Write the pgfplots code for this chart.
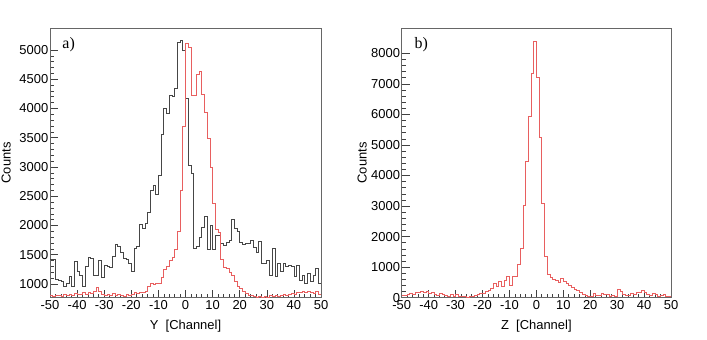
\documentclass[border=0pt]{standalone}
\usepackage{fontspec}
\setmainfont{Liberation Sans}
\newfontfamily\seriffont{Liberation Serif}
\usepackage{pgfplots}
\pgfplotsset{compat=1.18}
\usepackage{pgfplotstable}
\definecolor{histred}{RGB}{232,95,95}
\definecolor{histgray}{RGB}{70,70,70}

\pgfplotstableread{
x b r
-50 1420 800
-49 1420 790
-48 1080 810
-47 1060 800
-46 1050 790
-45 965 820
-44 1020 810
-43 1137 830
-42 965 810
-41 1380 840
-40 1210 830
-39 1140 820
-38 965 850
-37 1310 830
-36 1456 860
-35 1440 840
-34 1140 870
-33 1140 950
-32 1410 880
-31 1120 830
-30 1320 810
-29 1300 830
-28 1290 800
-27 1480 840
-26 1684 810
-25 1640 830
-24 1550 800
-23 1440 790
-22 1420 820
-21 1355 800
-20 1210 830
-19 1610 850
-18 1640 840
-17 2025 860
-16 1950 850
-15 2040 870
-14 2220 960
-13 2600 1020
-12 2680 990
-11 2540 1020
-10 2850 1010
-9 3550 1120
-8 4000 1250
-7 3920 1300
-6 4230 1400
-5 4200 1450
-4 4340 1600
-3 5130 1900
-2 5160 2600
-1 5000 3690
0 4170 5120
1 3030 5050
2 2890 4230
3 1610 4220
4 1640 4580
5 1800 4640
6 1970 4250
7 2150 3930
8 1600 3490
9 2010 3000
10 1600 2380
11 1830 1930
12 1830 1880
13 1700 1420
14 1660 1280
15 1720 1260
16 1750 1200
17 2100 1150
18 1950 1040
19 1900 955
20 1720 930
21 1670 880
22 1690 840
23 1690 810
24 1750 800
25 1630 790
26 1550 780
27 1735 790
28 1353 770
29 1353 790
30 1410 780
31 1154 800
32 1610 790
33 1126 810
34 1353 790
35 1210 800
36 1353 820
37 1296 810
38 1325 830
39 1296 840
40 1126 820
41 1325 860
42 1068 850
43 1154 870
44 1012 850
45 1183 880
46 1040 860
47 1154 840
48 1268 870
49 1010 830
50 1010 830
}\dataA

\pgfplotstableread{
x r
-50 80
-49 90
-48 100
-47 130
-46 120
-45 160
-44 170
-43 200
-42 180
-41 210
-40 130
-39 170
-38 110
-37 90
-36 150
-35 120
-34 80
-33 60
-32 100
-31 40
-30 110
-29 60
-28 30
-27 40
-26 20
-25 50
-24 60
-23 90
-22 110
-21 130
-20 150
-19 200
-18 250
-17 310
-16 470
-15 380
-14 525
-13 380
-12 580
-11 690
-10 415
-9 690
-8 710
-7 1100
-6 1630
-5 3030
-4 4450
-3 5950
-2 7330
-1 8410
0 7230
1 5250
2 3100
3 1340
4 780
5 660
6 600
7 560
8 490
9 640
10 530
11 470
12 420
13 340
14 280
15 230
16 170
17 120
18 90
19 60
20 40
21 130
22 90
23 80
24 140
25 110
26 100
27 60
28 70
29 50
30 290
31 200
32 120
33 90
34 80
35 140
36 100
37 170
38 160
39 230
40 180
41 120
42 90
43 140
44 110
45 60
46 90
47 100
48 40
49 60
50 60
}\dataB

\pgfplotsset{
 rootstyle/.style={
  scale only axis, anchor=south west,
  height=269.7bp,
  xmin=-50, xmax=50,
  xtick={-50,-40,...,50},
  minor x tick num=4, minor y tick num=4,
  tick align=inside, xtick pos=lower, ytick pos=left,
  major tick length=8bp, minor tick length=4bp,
  every tick/.style={black!75, line width=0.6bp},
  axis line style={black!60, line width=0.8bp},
  tick label style={font=\fontsize{13}{15}\selectfont},
  /pgf/number format/assume math mode=true,
  /pgf/number format/1000 sep={},
  scaled y ticks=false,
  every axis y label/.style={rotate=90, anchor=center, font=\fontsize{13}{15}\selectfont},
  every axis x label/.style={anchor=center, font=\fontsize{13}{15}\selectfont},
  yticklabel style={inner xsep=1.5bp},
  xticklabel style={inner ysep=3bp},
  const plot,
 }
}

\begin{document}
\begin{tikzpicture}[x=1bp,y=1bp]
\useasboundingbox (0,0) rectangle (707,339);
\begin{axis}[rootstyle, at={(50bp,41.3bp)}, width=271bp,
  ymin=766, ymax=5376, ytick={1000,1500,...,5000},
  xlabel={Y\ \ [Channel]}, ylabel={Counts},
  xlabel style={at={(axis description cs:0.5,-0.104)}},
  ylabel style={at={(axis description cs:-0.162,0.5)}}]
\addplot[histgray, line width=0.65bp] table[x=x,y=b]{\dataA};
\addplot[histred, line width=0.65bp] table[x=x,y=r]{\dataA};
\node[anchor=west, font=\seriffont\fontsize{16}{18}\selectfont] at (axis description cs:0.033,0.937) {a)};
\end{axis}
\begin{axis}[rootstyle, at={(401.7bp,41.3bp)}, width=269.3bp,
  ymin=0, ymax=8830, ytick={0,1000,...,8000},
  xlabel={Z\ \ [Channel]}, ylabel={Counts},
  xlabel style={at={(axis description cs:0.5,-0.104)}},
  ylabel style={at={(axis description cs:-0.147,0.5)}}]
\addplot[histred, line width=0.65bp] table[x=x,y=r]{\dataB};
\node[anchor=west, font=\seriffont\fontsize{16}{18}\selectfont] at (axis description cs:0.035,0.937) {b)};
\end{axis}
\end{tikzpicture}
\end{document}
